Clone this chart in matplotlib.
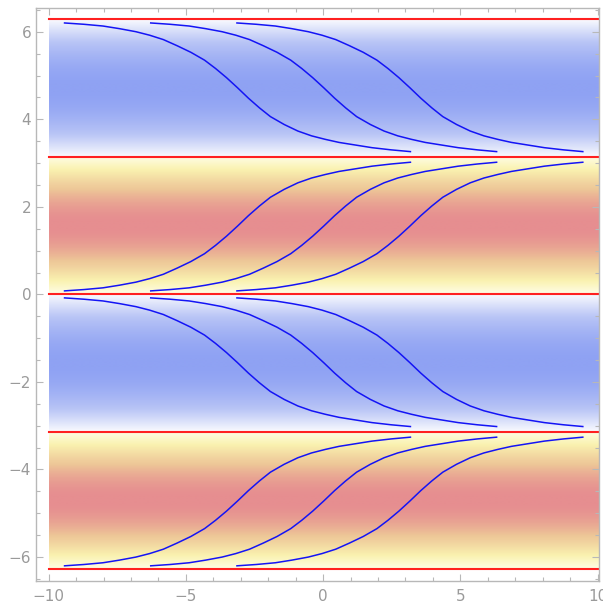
import matplotlib

matplotlib.use("Agg")
import matplotlib.pyplot as plt
import numpy as np
from matplotlib.colors import LinearSegmentedColormap
from matplotlib.ticker import MultipleLocator

# separatrices (red lines) and the sign of the field in each band between them
SEP_Y = [-6.283, -3.142, 0.0, 3.142, 6.283]
BAND_SIGN = [1, -1, 1, -1]          # +1 warm (yellow->red), -1 cool (white->blue)
FIELD_X = [-10.0, 10.0]

# kink profile: distance from its start, height above the band floor
KINK_DX = [0.0, 0.7, 1.4, 2.0, 2.6, 3.1, 3.6, 4.1, 4.6, 5.1, 5.5, 5.9, 6.3,
           6.7, 7.1, 7.5, 8.0, 8.5, 9.0, 9.5, 10.0, 10.6, 11.2, 11.9, 12.6]
KINK_Y = [0.08, 0.11, 0.15, 0.21, 0.28, 0.36, 0.46, 0.60, 0.75, 0.93, 1.12, 1.33, 1.56,
          1.80, 2.02, 2.22, 2.40, 2.55, 2.66, 2.74, 2.81, 2.87, 2.93, 2.98, 3.02]
KINK_X0 = [-9.42, -6.28, -3.14]      # start of the three shifted kinks
RISE_FLOOR = [-6.283, 0.0]           # rising kinks sit on these
FALL_CEIL = [0.0, 6.283]             # falling kinks hang from these

C_SEP = "#ff2020"
C_KINK = "#1414f5"
C_AX = "#b8b8b8"
C_LAB = "#9a9a9a"

cmap = LinearSegmentedColormap.from_list("temp", [
    (0.00, "#8fa2f3"),
    (0.25, "#b9c5f6"),
    (0.499, "#fafbfe"),
    (0.50, "#fefde6"),
    (0.65, "#faf2b0"),
    (0.85, "#edc597"),
    (1.00, "#e68e90"),
])

fig = plt.figure(figsize=(6.03, 6.06), dpi=100)
ax = fig.add_axes([36 / 603, 1 - 581 / 606, 563 / 603, 573 / 606])

# shaded bands: smooth bump from the edges to the middle of each band
t = np.linspace(0, 1, 300)
bump = np.sin(np.pi * t)
for lo, hi, s in zip(SEP_Y[:-1], SEP_Y[1:], BAND_SIGN):
    col = (s * bump)[:, None]
    ax.imshow(col, extent=[FIELD_X[0], FIELD_X[1], lo, hi], origin="lower",
              cmap=cmap, vmin=-1, vmax=1, aspect="auto", interpolation="bilinear", zorder=0)

for y in SEP_Y:
    ax.plot(FIELD_X, [y, y], color=C_SEP, lw=1.5, zorder=2)

dx = np.array(KINK_DX)
ky = np.array(KINK_Y)
for x0 in KINK_X0:
    for f in RISE_FLOOR:
        ax.plot(x0 + dx, f + ky, color=C_KINK, lw=1.1, zorder=3,
                solid_joinstyle="round", antialiased=True)
    for c in FALL_CEIL:
        ax.plot(x0 + dx, c - ky, color=C_KINK, lw=1.1, zorder=3,
                solid_joinstyle="round", antialiased=True)

ax.set_xlim(-10.46, 10.05)
ax.set_ylim(-6.55, 6.545)
ax.xaxis.set_major_locator(MultipleLocator(5))
ax.xaxis.set_minor_locator(MultipleLocator(1))
ax.yaxis.set_major_locator(MultipleLocator(2))
ax.yaxis.set_minor_locator(MultipleLocator(0.5))
ax.tick_params(which="both", direction="in", top=True, right=True, color=C_AX,
               labelcolor=C_LAB, labelsize=11, width=0.8)
ax.tick_params(which="major", length=5)
ax.tick_params(which="minor", length=3)
ax.tick_params(axis="x", pad=5.5)
ax.tick_params(axis="y", pad=3.5)
for sp in ax.spines.values():
    sp.set_color(C_AX)
    sp.set_linewidth(1.0)

fig.savefig("out.png", dpi=100)
